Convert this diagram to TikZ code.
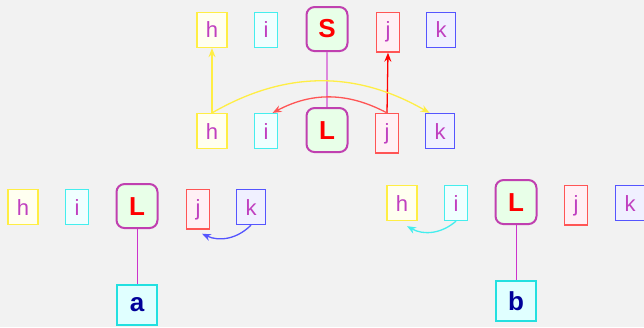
\documentclass[tikz,border=0pt]{standalone}
\usepackage{fontspec}
\setmainfont{Liberation Sans}
\usetikzlibrary{arrows.meta}
\definecolor{Canvas}{HTML}{F2F2F2}
\definecolor{Letter}{HTML}{C040C0}
\definecolor{HEdge}{HTML}{FFEE44}
\definecolor{HFill}{HTML}{FFFFF0}
\definecolor{IEdge}{HTML}{44EEEE}
\definecolor{IFill}{HTML}{F0FFFF}
\definecolor{JEdge}{HTML}{FF5555}
\definecolor{JFill}{HTML}{FFF0F5}
\definecolor{KEdge}{HTML}{5555FF}
\definecolor{KFill}{HTML}{F0F0FF}
\definecolor{PivotEdge}{HTML}{C040B0}
\definecolor{PivotFill}{HTML}{E8FFE8}
\definecolor{LeafEdge}{HTML}{22E0E0}
\definecolor{LeafFill}{HTML}{E0FFFF}
\definecolor{LeafText}{HTML}{000099}
\definecolor{Stem}{HTML}{CC33CC}
\definecolor{StemLight}{HTML}{DD88DD}

\begin{document}
\begin{tikzpicture}[
  x=1pt, y=1pt,
  letter/.style={
    draw,
    line width=1.3pt,
    inner xsep=9pt,
    inner ysep=9.5pt,
    anchor=base,
    text=Letter,
    font=\fontsize{22}{26}\selectfont
  },
  hbox/.style={letter, draw=HEdge, fill=HFill},
  ibox/.style={letter, draw=IEdge, fill=IFill},
  jbox/.style={letter, draw=JEdge, fill=JFill},
  kbox/.style={letter, draw=KEdge, fill=KFill},
  pivot/.style={
    draw=PivotEdge,
    line width=2pt,
    rounded corners=8pt,
    fill=PivotFill,
    minimum width=41pt,
    minimum height=44pt,
    anchor=base,
    text=red,
    font=\fontsize{26}{30}\selectfont\bfseries
  },
  leaf/.style={
    draw=LeafEdge,
    line width=2.5pt,
    fill=LeafFill,
    minimum size=40pt,
    text=LeafText,
    font=\fontsize{26}{30}\selectfont\bfseries
  },
  stem/.style={draw=Stem, line width=1pt},
  move/.style={
    -{Stealth[length=9pt,width=7pt,inset=3pt]},
    line width=1.3pt
  }
]

\fill[Canvas] (0,0) rectangle (644,327);
\useasboundingbox (0,0) rectangle (644,327);

% top row
\node[hbox] (hTop) at (212,289) {h};
\node[ibox] (iTop) at (266,289) {i};
\node[pivot] (sTop) at (327,289) {S};
\node[jbox] (jTop) at (388,289) {j};
\node[kbox] (kTop) at (441,289) {k};

% middle row
\node[hbox] (hMid) at (212,188) {h};
\node[ibox] (iMid) at (266,188) {i};
\node[pivot] (lMid) at (327,188) {L};
\node[jbox] (jMid) at (387,188) {j};
\node[kbox] (kMid) at (440,188) {k};

% left result
\node[hbox] (hA) at (23,112) {h};
\node[ibox] (iA) at (77,112) {i};
\node[pivot] (lA) at (137,112) {L};
\node[jbox] (jA) at (198,112) {j};
\node[kbox] (kA) at (251,112) {k};
\node[leaf] (a) at (137,22) {a};

% right result
\node[hbox] (hB) at (402,116) {h};
\node[ibox] (iB) at (456,116) {i};
\node[pivot] (lB) at (516,116) {L};
\node[jbox] (jB) at (576,116) {j};
\node[kbox] (kB) at (630,116) {k};
\node[leaf] (b) at (516,26) {b};

\draw[draw=StemLight, line width=1.5pt] (sTop) -- (lMid);
\draw[stem] (lA) -- (a);
\draw[stem] (lB) -- (b);

\draw[move, draw=HEdge] (hMid.north) -- (hTop.south);
\draw[move, draw=red] (jMid.north) -- (jTop.south);
\draw[move, draw=HEdge] (hMid.north) to[bend left=30] (kMid.120);
\draw[move, draw=JEdge] (jMid.north) to[bend right=28] (iMid.70);

\draw[move, draw=KEdge] (kA.south)
  to[bend left=35] ([xshift=4pt,yshift=-4pt]jA.south);
\draw[move, draw=IEdge] (iB.south)
  to[bend left=35] ([xshift=5pt,yshift=-5pt]hB.south);

\end{tikzpicture}
\end{document}
